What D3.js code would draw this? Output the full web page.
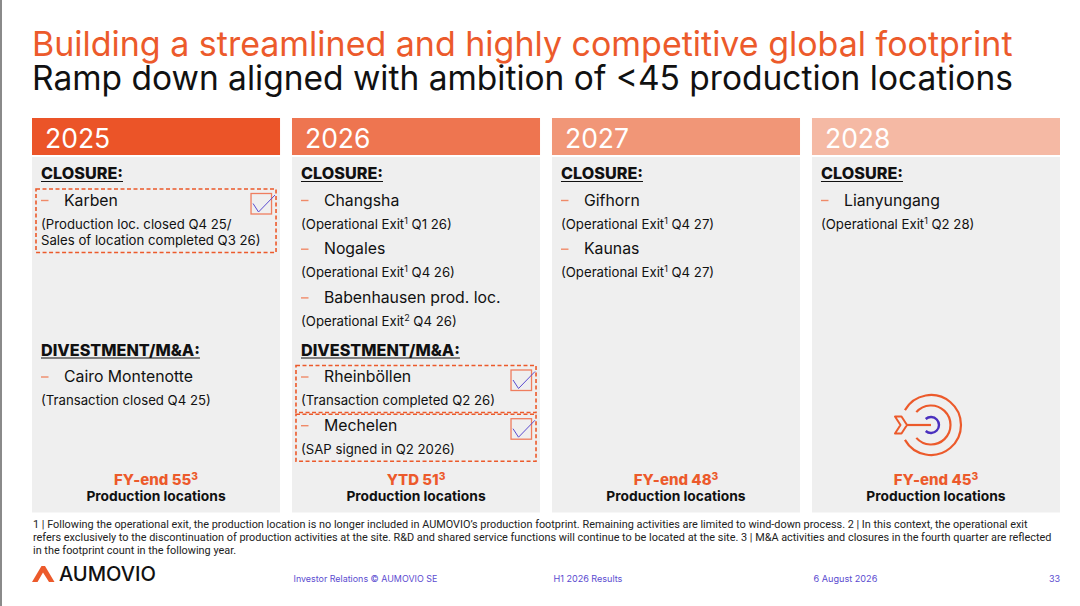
<!DOCTYPE html>
<html>
<head>
<meta charset="utf-8">
<script src="https://cdn.jsdelivr.net/npm/d3@7"></script>
<style>
  body { margin: 0; background: #fff; }
  svg { display: block; font-family: Inter, "Noto Sans", sans-serif; }
</style>
</head>
<body>
<svg id="slide" width="1080" height="606"></svg>
<script>
// ---- data ----
var titleLines = ["Building a streamlined and highly competitive global footprint",
                  "Ramp down aligned with ambition of <45 production locations"]
var years = ["2025", "2026", "2027", "2028"]
var countPrefix = ["FY-end", "YTD", "FY-end", "FY-end"]
var locationCounts = [55, 51, 48, 45]
var closureSites = [["Karben"], ["Changsha", "Nogales", "Babenhausen prod. loc."], ["Gifhorn", "Kaunas"], ["Lianyungang"]]
var closureNotes = [
  [["(Production loc. closed Q4 25/", "Sales of location completed Q3 26)"]],
  [["(Operational Exit^1 Q1 26)"], ["(Operational Exit^1 Q4 26)"], ["(Operational Exit^2 Q4 26)"]],
  [["(Operational Exit^1 Q4 27)"], ["(Operational Exit^1 Q4 27)"]],
  [["(Operational Exit^1 Q2 28)"]]
]
var closureDone = [[true], [false, false, false], [false, false], [false]]
var divestSites = [["Cairo Montenotte"], ["Rheinböllen", "Mechelen"], [], []]
var divestNotes = [[["(Transaction closed Q4 25)"]], [["(Transaction completed Q2 26)"], ["(SAP signed in Q2 2026)"]], [], []]
var divestDone = [[false], [true, true], [], []]
var footnotes = [
  "1 | Following the operational exit, the production location is no longer included in AUMOVIO’s production footprint. Remaining activities are limited to wind-down process. 2 | In this context, the operational exit",
  "refers exclusively to the discontinuation of production activities at the site. R&D and shared service functions will continue to be located at the site. 3 | M&A activities and closures in the fourth quarter are reflected",
  "in the footprint count in the following year."
]
var footerLabels = ["Investor Relations © AUMOVIO SE", "H1 2026 Results", "6 August 2026"]
var footerWidths = [144, 69, 64]
var pageNumber = "33"

// ---- styles ----
var orange = "#EC5A2B"
  , purple = "#5B4BD0"
  , headerColors = ["#EB5428", "#EE7550", "#F19677", "#F5B9A4"]
  , panelFill = "#EFEFEF"

var svg = d3.select("#slide")

// shrink/grow a text so it spans the given width
function fitWidth(sel, target){
  sel.each(function(d, i){
    var t = d3.select(this)
      , fs = parseFloat(t.attr("font-size"))
      , w = typeof target == "function" ? target(d, i) : target
    t.attr("font-size", fs * w / this.getComputedTextLength())
  })
}

// text with "^n" superscripts
function richText(sel, str){
  var back = 0
  str.split(/(\^\d)/).forEach(function(part){
    if (!part) return
    var t = sel.append("tspan")
    if (part[0] == "^") {
      t.attr("dy", -5).attr("font-size", "0.68em").text(part.slice(1))
      back = 5
    } else {
      if (back) t.attr("dy", back)
      back = 0
      t.text(part)
    }
  })
}

// left page edge
svg.append("line").attr("x1", 1).attr("x2", 1).attr("y1", 0).attr("y2", 606)
  .attr("stroke", "#8a8a8a").attr("stroke-width", 2)

// titles
svg.selectAll(".title").data(titleLines).join("text")
  .attr("class", "title")
  .attr("x", 32).attr("y", function(d, i){ return 55.5 + i * 34.5 })
  .attr("font-size", 33)
  .attr("fill", function(d, i){ return i == 0 ? orange : "#111" })
  .text(function(d){ return d })
  .call(fitWidth, 981)

// columns
var x = d3.scaleBand().domain(years).range([32, 1060]).paddingInner(0.046)
  , bw = x.bandwidth()
  , rowPitch = 48.7

var cols = svg.selectAll(".col").data(years).join("g")
  .attr("class", "col")
  .attr("transform", function(d){ return "translate(" + x(d) + ",0)" })

cols.append("rect").attr("y", 118).attr("width", bw).attr("height", 37)
  .attr("fill", function(d, i){ return headerColors[i] })
cols.append("rect").attr("y", 157).attr("width", bw).attr("height", 355.5)
  .attr("fill", panelFill)
cols.append("text").attr("x", 13).attr("y", 147.5)
  .attr("font-size", 26.5).attr("fill", "#fff")
  .text(function(d){ return d })

function section(g, label, labelY, sites, notes, done){
  var head = g.append("text").attr("x", 9).attr("y", labelY)
    .attr("font-size", 16.2).attr("font-weight", 800).attr("fill", "#111")
    .text(label)
  var w = head.node().getComputedTextLength()
  g.append("line").attr("x1", 9).attr("x2", 9 + w)
    .attr("y1", labelY + 2.5).attr("y2", labelY + 2.5)
    .attr("stroke", "#111").attr("stroke-width", 1.2)

  sites.forEach(function(site, i){
    var y0 = labelY + 26.5 + i * rowPitch
      , lines = notes[i]
    g.append("line").attr("x1", 9).attr("x2", 16.5)
      .attr("y1", y0 - 5).attr("y2", y0 - 5)
      .attr("stroke", "#F08A68").attr("stroke-width", 1.4)
    g.append("text").attr("x", 32).attr("y", y0)
      .attr("font-size", 15.8).attr("fill", "#111").text(site)
    lines.forEach(function(line, j){
      g.append("text").attr("x", 9).attr("y", y0 + 23 + j * 16.5)
        .attr("font-size", 13.2).attr("fill", "#111")
        .call(richText, line)
    })
    if (done[i]) {
      var top = y0 - 16.5
        , bottom = y0 + 23 + (lines.length - 1) * 16.5 + 7.5
      g.append("rect").attr("x", 4).attr("y", top)
        .attr("width", bw - 8).attr("height", bottom - top)
        .attr("fill", "none").attr("stroke", orange)
        .attr("stroke-width", 1.6).attr("stroke-dasharray", "4,2.5")
      var bx = bw - 29, by = top + 4.5
      g.append("rect").attr("x", bx).attr("y", by).attr("width", 20.5).attr("height", 20.5)
        .attr("fill", "none").attr("stroke", "#EF7D5E").attr("stroke-width", 1.3)
      g.append("polyline")
        .attr("points", [[bx + 2, by + 10], [bx + 7.5, by + 18.5], [bx + 24, by + 1.5]].join(" "))
        .attr("fill", "none").attr("stroke", purple).attr("stroke-width", 1)
    }
  })
}

cols.each(function(d, i){
  var g = d3.select(this)
  section(g, "CLOSURE:", 179, closureSites[i], closureNotes[i], closureDone[i])
  if (divestSites[i].length)
    section(g, "DIVESTMENT/M&A:", 355.5, divestSites[i], divestNotes[i], divestDone[i])

  var c = g.append("text").attr("x", bw / 2).attr("y", 484.5)
    .attr("text-anchor", "middle").attr("font-size", 15)
    .attr("font-weight", 800).attr("fill", orange)
  richText(c, countPrefix[i] + " " + locationCounts[i] + "^3")
  g.append("text").attr("x", bw / 2).attr("y", 500.5)
    .attr("text-anchor", "middle").attr("font-size", 13.8)
    .attr("font-weight", 700).attr("fill", "#111")
    .text("Production locations")
})

// target icon in the goal year
var goal = cols.filter(function(d, i){ return i == years.length - 1 })
  , cx = bw / 2 - 5, cy = 425
function openRing(r, gap){
  var p = d3.path()
    , a0 = Math.PI + gap
  p.moveTo(cx + r * Math.cos(a0), cy + r * Math.sin(a0))
  p.arc(cx, cy, r, a0, 3 * Math.PI - gap)
  return p.toString()
}
goal.append("path").attr("d", openRing(30, 0.52)).attr("fill", "none")
  .attr("stroke", orange).attr("stroke-width", 2.2)
goal.append("path").attr("d", openRing(19.5, 0.72)).attr("fill", "none")
  .attr("stroke", orange).attr("stroke-width", 2.2)
goal.append("path").attr("d", openRing(8, 0.85)).attr("fill", "none")
  .attr("stroke", "#4A30BE").attr("stroke-width", 2.4)
goal.append("line").attr("x1", cx - 25).attr("x2", cx).attr("y1", cy).attr("y2", cy)
  .attr("stroke", orange).attr("stroke-width", 2.2)
goal.append("path")
  .attr("d", "M" + (cx - 36) + "," + (cy - 8.5) + "h6.5l5.5,8.5l-5.5,8.5h-6.5l5.5,-8.5z")
  .attr("fill", "none").attr("stroke", orange).attr("stroke-width", 2).attr("stroke-linejoin", "round")

// footnotes
svg.selectAll(".foot").data(footnotes).join("text")
  .attr("class", "foot")
  .attr("x", 33).attr("y", function(d, i){ return 527.5 + i * 13 })
  .attr("font-family", "Roboto, sans-serif").attr("font-size", 9.5).attr("fill", "#222")
  .text(function(d){ return d })
var fs0 = svg.select(".foot")
fitWidth(fs0, 996)
svg.selectAll(".foot").attr("font-size", fs0.attr("font-size"))

// logo
svg.append("path")
  .attr("d", "M32,582 L41.5,566 L45,566 L54.5,582 L49,582 L43,572.5 L37.5,582 Z")
  .attr("fill", orange)
svg.append("text").attr("x", 59).attr("y", 580.5)
  .attr("font-size", 18.5).attr("font-weight", 500).attr("fill", "#111")
  .text("AUMOVIO")
  .call(fitWidth, 97)

// footer
svg.selectAll(".footer").data(footerLabels).join("text")
  .attr("class", "footer")
  .attr("x", function(d, i){ return x(years[i + 1]) + 1.5 }).attr("y", 582)
  .attr("font-size", 9).attr("fill", purple)
  .text(function(d){ return d })
  .call(fitWidth, function(d, i){ return footerWidths[i] })
svg.append("text").attr("x", 1060).attr("y", 582).attr("text-anchor", "end")
  .attr("font-size", 9).attr("fill", purple).text(pageNumber)
</script>
</body>
</html>
